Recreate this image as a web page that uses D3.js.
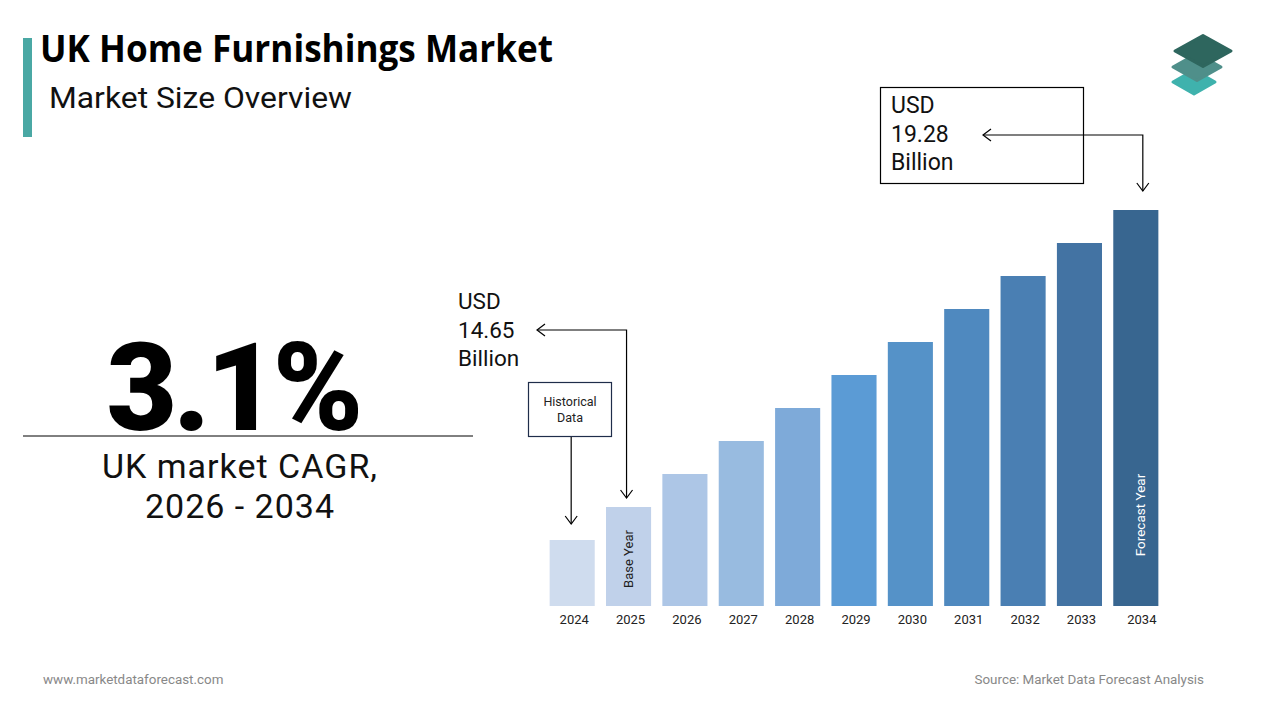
<!DOCTYPE html>
<html><head><meta charset="utf-8">
<script src="https://cdn.jsdelivr.net/npm/d3@7"></script>
<style>html,body{margin:0;padding:0;background:#fff;}svg{display:block;}</style>
</head><body>
<svg id="c" width="1280" height="720"></svg>
<script>
// Data
const years = ["2024","2025","2026","2027","2028","2029","2030","2031","2032","2033","2034"];
const barValues = [2,3,4,5,6,7,8,9,10,11,12]; // relative bar heights
const barColors = ["#cfdcee","#c0d1ea","#adc6e6","#98bbe0","#7eaad9","#5b9bd5","#5592c8","#4f89bf","#4a7fb3","#4373a3","#386690"];
const cagr = "3.1%";
const cagrLabel = ["UK market CAGR,","2026 - 2034"];
const baseValueLines = ["USD","14.65","Billion"];
const forecastValueLines = ["USD","19.28","Billion"];

const svg = d3.select("#c");
const F = "Roboto, 'Open Sans', sans-serif";

// Title block
svg.append("rect").attr("x",23).attr("y",38).attr("width",9).attr("height",99).attr("fill","#4aa8a4");
svg.append("text").attr("x",40).attr("y",62).attr("font-family","'Open Sans', sans-serif").attr("font-weight",700)
  .attr("font-size",37).attr("textLength",513).attr("lengthAdjust","spacingAndGlyphs").attr("fill","#000").text("UK Home Furnishings Market");
svg.append("text").attr("x",49).attr("y",108).attr("font-family",F).attr("font-size",29.5)
  .attr("textLength",303).attr("lengthAdjust","spacingAndGlyphs").attr("fill","#111").text("Market Size Overview");

// Logo
function rhomb(cx,cy,w,h,fill){
  svg.append("path").attr("d",`M${cx-w/2},${cy} L${cx},${cy-h/2} L${cx+w/2},${cy} L${cx},${cy+h/2} Z`)
    .attr("fill",fill).attr("stroke",fill).attr("stroke-width",3).attr("stroke-linejoin","round");
}
rhomb(1194,82,42,24,"#3fb2ad");
rhomb(1197,67,48,27,"#4f8f8a");
rhomb(1203,51,56,31,"#2e665e");

// Big CAGR
svg.append("text").attr("x",233).attr("y",430).attr("text-anchor","middle").attr("font-family",F).attr("font-weight",900)
  .attr("font-size",122).attr("letter-spacing",-4).attr("fill","#000").text(cagr);
svg.append("line").attr("x1",23).attr("x2",473).attr("y1",436).attr("y2",436).attr("stroke","#000").attr("stroke-width",1);
svg.selectAll("text.cl").data(cagrLabel).join("text").attr("class","cl")
  .attr("x",240).attr("y",(d,i)=>478+i*40).attr("text-anchor","middle").attr("font-family",F)
  .attr("font-size",34).attr("letter-spacing",1).attr("fill","#111").text(d=>d);

// Bars
const x = d3.scaleBand().domain(years).range([544,1164]).paddingInner(0.2).paddingOuter(0.1);
const y = d3.scaleLinear().domain([0,12]).range([606,210]);
svg.selectAll("rect.bar").data(years).join("rect").attr("class","bar")
  .attr("x",d=>x(d)).attr("width",x.bandwidth())
  .attr("y",(d,i)=>y(barValues[i])).attr("height",(d,i)=>y(0)-y(barValues[i]))
  .attr("fill",(d,i)=>barColors[i]);

const xAxis = svg.append("g").attr("transform","translate(0,606)")
  .call(d3.axisBottom(x).tickSize(0).tickPadding(9));
xAxis.select(".domain").remove();
xAxis.selectAll("text").attr("font-family",F).attr("font-size",13).attr("fill","#222").attr("dx",2);
xAxis.selectAll(".tick").filter(d=>d==="2034").select("text").attr("dx",6);

// Rotated in-bar labels
const cx = d=>x(d)+x.bandwidth()/2;
svg.append("text").attr("transform",`translate(${cx("2025")+4},${559}) rotate(-90)`).attr("text-anchor","middle")
  .attr("font-family",F).attr("font-size",13).attr("fill","#222").text("Base Year");
svg.append("text").attr("transform",`translate(${cx("2034")+9},${515}) rotate(-90)`).attr("text-anchor","middle")
  .attr("font-family",F).attr("font-size",13.5).attr("fill","#fff").text("Forecast Year");

// Arrow helpers
function chevron(xp,yp,dir){
  const s=6;
  let d;
  if(dir==="left") d=`M${xp+s+2},${yp-s} L${xp},${yp} L${xp+s+2},${yp+s}`;
  else d=`M${xp-s},${yp-s-2} L${xp},${yp} L${xp+s},${yp-s-2}`;
  svg.append("path").attr("d",d).attr("fill","none").attr("stroke","#000").attr("stroke-width",1.2);
}

// Base-year annotation
svg.selectAll("text.bv").data(baseValueLines).join("text").attr("class","bv")
  .attr("x",458).attr("y",(d,i)=>309+i*28.5).attr("font-family",F).attr("font-size",22.5).attr("fill","#111").text(d=>d);
const bx = cx("2025")-2;
svg.append("path").attr("d",`M537,330 H${bx} V498`).attr("fill","none").attr("stroke","#000").attr("stroke-width",1.2);
chevron(537,330,"left"); chevron(bx,498,"down");

// Historical box
svg.append("rect").attr("x",528.5).attr("y",382.5).attr("width",83).attr("height",54).attr("fill","#fff").attr("stroke","#1f2d4a").attr("stroke-width",1.2);
svg.selectAll("text.hd").data(["Historical","Data"]).join("text").attr("class","hd")
  .attr("x",570).attr("y",(d,i)=>406+i*16).attr("text-anchor","middle").attr("font-family",F).attr("font-size",12.5).attr("fill","#222").text(d=>d);
const hx = cx("2024")-1;
svg.append("line").attr("x1",hx).attr("x2",hx).attr("y1",437).attr("y2",524).attr("stroke","#000").attr("stroke-width",1.2);
chevron(hx,524,"down");

// Forecast annotation
svg.append("rect").attr("x",880.5).attr("y",87.5).attr("width",203).attr("height",96).attr("fill","#fff").attr("stroke","#000").attr("stroke-width",1.2);
svg.selectAll("text.fv").data(forecastValueLines).join("text").attr("class","fv")
  .attr("x",891).attr("y",(d,i)=>113+i*28.5).attr("font-family",F).attr("font-size",23).attr("fill","#111").text(d=>d);
const fx = cx("2034")+7;
svg.append("path").attr("d",`M983,135 H${fx} V191`).attr("fill","none").attr("stroke","#000").attr("stroke-width",1.2);
chevron(983,135,"left"); chevron(fx,191,"down");

// Footer
svg.append("text").attr("x",43).attr("y",684).attr("font-family",F).attr("font-size",13.4).attr("fill","#888").text("www.marketdataforecast.com");
svg.append("text").attr("x",1204).attr("y",684).attr("text-anchor","end").attr("font-family",F).attr("font-size",13.4).attr("fill","#888").text("Source: Market Data Forecast Analysis");
</script>
</body></html>
